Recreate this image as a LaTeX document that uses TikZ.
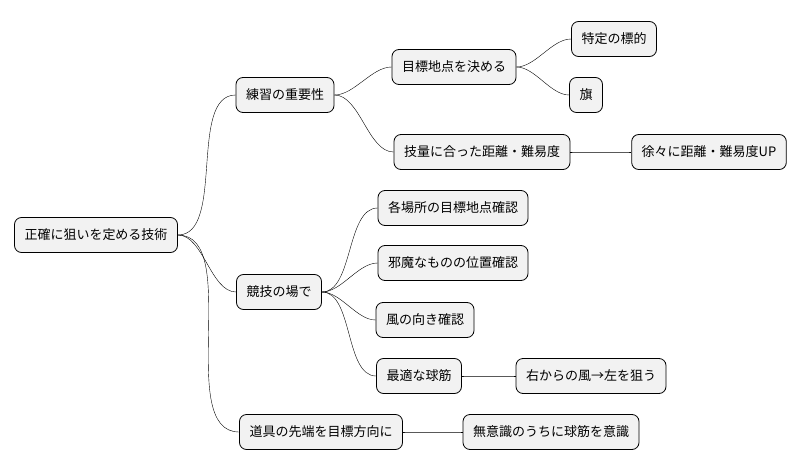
\documentclass[tikz,border=0pt]{standalone}
\usepackage{fontspec}
\setmainfont{Noto Sans CJK JP}
\usetikzlibrary{positioning}
\begin{document}
\begin{tikzpicture}[x=1pt,y=-1pt]
    \tikzstyle{every node}=[draw=black,thick,fill=black!5,rounded corners=7pt,minimum height=35pt,inner xsep=10pt,font=\fontsize{13}{15}\selectfont]
    \tikzstyle{link}=[draw=black,thin]
    \useasboundingbox[draw=none,fill=white] (0,0) rectangle (801,471);

    \node (root) at (96,235) {正確に狙いを定める技術} ;

    \node (practice) at (285,95) {練習の重要性} ;
    \node (target) at (454,67) {目標地点を決める} ;
    \node (mark) at (614,39) {特定の標的} ;
    \node (flag) at (586,95) {旗} ;
    \node (skill) at (482,152) {技量に合った距離・難易度} ;
    \node (gradual) at (709,152) {徐々に距離・難易度UP} ;

    \node (field) at (279,292) {競技の場で} ;
    \node (spots) at (453,208) {各場所の目標地点確認} ;
    \node (obstacle) at (453,263) {邪魔なものの位置確認} ;
    \node (wind) at (425,320) {風の向き確認} ;
    \node (ball) at (419,376) {最適な球筋} ;
    \node (aim) at (591,376) {右からの風→左を狙う} ;

    \node (tool) at (321,432) {道具の先端を目標方向に} ;
    \node (unconscious) at (551,432) {無意識のうちに球筋を意識} ;

    \newcommand{\branch}[2]{%
    \draw[link] (#1.east) to[out=0,in=180,looseness=0.8] (#2.west) ;}

    \foreach \a/\b in {root/practice,root/field,root/tool,
                       practice/target,practice/skill,target/mark,target/flag,skill/gradual,
                       field/spots,field/obstacle,field/wind,field/ball,ball/aim,tool/unconscious}
      {\branch{\a}{\b}}
\end{tikzpicture}
\end{document}
